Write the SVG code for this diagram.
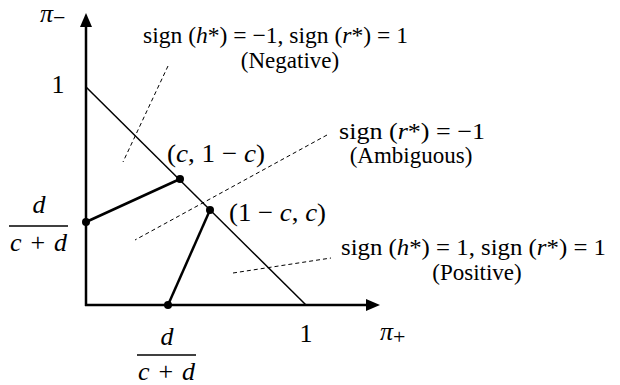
<svg xmlns="http://www.w3.org/2000/svg" width="620" height="385" viewBox="0 0 620 385">
<style>
.ax{stroke:#000;stroke-width:2.5;fill:none}
.thin{stroke:#000;stroke-width:1.5;fill:none}
.thick{stroke:#000;stroke-width:2.5;fill:none}
.dash{stroke:#000;stroke-width:1;stroke-dasharray:4 3;fill:none}
.lbl{font-family:"Liberation Serif","Times New Roman",serif;font-size:23px;fill:#000}
.math{font-family:"Liberation Serif","Times New Roman",serif;font-size:26px;fill:#000}
.it{font-style:italic}
</style>
<rect width="620" height="385" fill="#fff"/>
<g id="connectors">
<line class="ax" x1="86" y1="306" x2="86" y2="24"/>
<polygon points="86,13 80,27 92,27" fill="#000"/>
<line class="ax" x1="85" y1="305" x2="367" y2="305"/>
<polygon points="380,305 366,299 366,311" fill="#000"/>
<line class="thin" x1="86" y1="87" x2="306" y2="305"/>
<line class="thick" x1="86" y1="222" x2="180" y2="179"/>
<line class="thick" x1="168" y1="305" x2="210" y2="210"/>
<line class="dash" x1="168" y1="66" x2="123" y2="162"/>
<line class="dash" x1="327" y1="135" x2="135" y2="240"/>
<line class="dash" x1="233" y1="273" x2="331" y2="258"/>
</g>
<g id="points">
<circle cx="180" cy="179" r="4"/>
<circle cx="210" cy="210" r="4"/>
<circle cx="86" cy="222" r="4"/>
<circle cx="168" cy="305" r="4"/>
</g>
<g id="axis-labels">
<text class="math" x="40" y="22"><tspan class="it">π</tspan><tspan font-size="22" dy="3">−</tspan></text>
<text class="math" x="380" y="340"><tspan class="it">π</tspan><tspan font-size="22" dy="4">+</tspan></text>
<text class="math" x="58" y="93" text-anchor="middle">1</text>
<text class="math" x="306" y="342" text-anchor="middle">1</text>
</g>
<g id="frac-left">
<text class="math it" x="39" y="213" text-anchor="middle">d</text>
<line x1="9" y1="226" x2="68" y2="226" stroke="#000" stroke-width="1.5"/>
<text class="math" x="10" y="251" textLength="57" lengthAdjust="spacing"><tspan class="it">c</tspan> + <tspan class="it">d</tspan></text>
</g>
<g id="frac-bottom">
<text class="math it" x="167" y="345" text-anchor="middle">d</text>
<line x1="137" y1="355" x2="196" y2="355" stroke="#000" stroke-width="1.5"/>
<text class="math" x="138" y="380" textLength="57" lengthAdjust="spacing"><tspan class="it">c</tspan> + <tspan class="it">d</tspan></text>
</g>
<g id="pt-labels">
<text class="math" x="167" y="162" textLength="98" lengthAdjust="spacingAndGlyphs">(<tspan class="it">c</tspan>, 1 − <tspan class="it">c</tspan>)</text>
<text class="math" x="229" y="221" textLength="97" lengthAdjust="spacingAndGlyphs">(1 − <tspan class="it">c</tspan>, <tspan class="it">c</tspan>)</text>
</g>
<g id="region-negative">
<text class="lbl" x="143" y="43" textLength="265" lengthAdjust="spacingAndGlyphs">sign (<tspan class="it">h</tspan>*) = −1, sign (<tspan class="it">r</tspan>*) = 1</text>
<text class="lbl" x="290" y="68" text-anchor="middle">(Negative)</text>
</g>
<g id="region-ambiguous">
<text class="lbl" x="339" y="139" textLength="146" lengthAdjust="spacingAndGlyphs">sign (<tspan class="it">r</tspan>*) = −1</text>
<text class="lbl" x="411" y="163" text-anchor="middle">(Ambiguous)</text>
</g>
<g id="region-positive">
<text class="lbl" x="341" y="255" textLength="265" lengthAdjust="spacingAndGlyphs">sign (<tspan class="it">h</tspan>*) = 1, sign (<tspan class="it">r</tspan>*) = 1</text>
<text class="lbl" x="477" y="280" text-anchor="middle">(Positive)</text>
</g>
</svg>
